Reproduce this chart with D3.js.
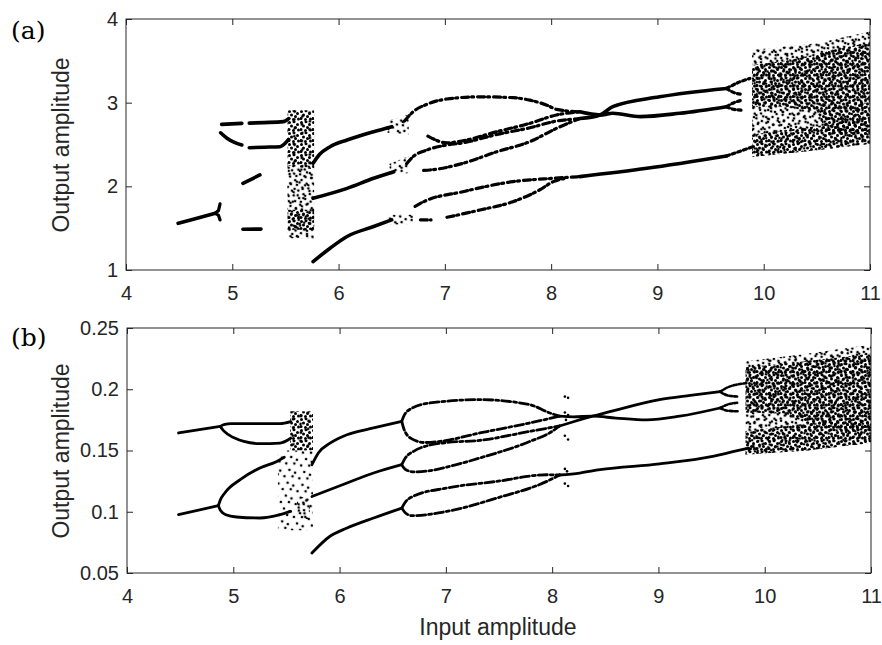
<!DOCTYPE html>
<html>
<head>
<meta charset="utf-8">
<script src="https://d3js.org/d3.v7.min.js"></script>
<style>
body { margin: 0; background: #fff; }
</style>
</head>
<body>
<script>

// ---- ticks ----
var xTicks = [4, 5, 6, 7, 8, 9, 10, 11];
var yTicksA = [1, 2, 3, 4];
var yTicksB = [0.05, 0.1, 0.15, 0.2, 0.25];
var yLabelsB = ["0.05", "0.1", "0.15", "0.2", "0.25"];

// ---- panel (a): branches, [input, output] ----
var aStem = [[4.49,1.558],[4.66,1.615],[4.84,1.678]];
var aForkUp = [[4.84,1.678],[4.87,1.71],[4.885,1.79]];
var aForkDn = [[4.84,1.678],[4.87,1.655],[4.885,1.598]];
var aSegMid = [[5.10,2.036],[5.26,2.136]];
var aSegLow = [[5.10,1.487],[5.27,1.489]];
var aUpperL = [[4.90,2.741],[5.09,2.753]];
var aUpperR = [[5.16,2.756],[5.30,2.762],[5.48,2.773],[5.53,2.81]];
var aLowerL = [[4.89,2.64],[4.95,2.575],[5.02,2.525],[5.09,2.494]];
var aLowerR = [[5.16,2.462],[5.30,2.468],[5.45,2.474],[5.53,2.56]];
var aTop0 = [[5.76,2.275],[5.82,2.38],[5.92,2.474],[6.08,2.554],[6.33,2.653],[6.50,2.713]];
var aMid0 = [[5.76,1.857],[6.08,1.976],[6.33,2.096],[6.52,2.175]];
var aLow0 = [[5.76,1.10],[5.92,1.26],[6.08,1.40],[6.33,1.52],[6.50,1.60]];
var aA1 = [[6.62,2.78],[6.70,2.89],[6.83,2.98],[7.02,3.044],[7.33,3.07],[7.64,3.06],[7.80,3.03],[7.96,2.97],[8.05,2.92],[8.27,2.89]];
var aA2 = [[6.84,2.60],[7.02,2.52],[7.17,2.545],[7.49,2.653],[7.80,2.753],[8.05,2.853],[8.27,2.89]];
var aB1 = [[6.64,2.27],[6.70,2.354],[6.83,2.434],[7.00,2.49],[7.17,2.52],[7.49,2.62],[7.80,2.70],[8.05,2.78],[8.27,2.81]];
var aB2 = [[6.80,2.19],[6.86,2.195],[7.17,2.275],[7.49,2.414],[7.80,2.534],[8.05,2.693],[8.27,2.81]];
var aC1 = [[6.72,1.76],[6.80,1.816],[7.17,1.936],[7.64,2.056],[8.02,2.096],[8.27,2.116]];
var aC2a = [[6.77,1.60],[6.87,1.598]];
var aC2 = [[7.02,1.63],[7.33,1.717],[7.64,1.816],[7.89,1.956],[8.02,2.056],[8.15,2.10]];
var aCrossLo = [[8.27,2.89],[8.46,2.853],[8.58,2.873],[8.84,2.833],[9.21,2.873],[9.65,2.952]];
var aCrossHi = [[8.27,2.81],[8.46,2.853],[8.58,2.952],[9.02,3.07],[9.65,3.17]];
var aLate = [[8.27,2.116],[8.90,2.216],[9.65,2.363]];
var aLateTail = [[9.65,2.363],[9.78,2.42],[9.90,2.474]];
var aForkHiUp = [[9.65,3.17],[9.76,3.24],[9.87,3.29]];
var aForkHiDn = [[9.65,3.17],[9.72,3.12],[9.80,3.10]];
var aForkLoUp = [[9.65,2.952],[9.72,3.00],[9.80,3.03]];
var aForkLoDn = [[9.65,2.952],[9.72,2.92],[9.80,2.91]];

// chaotic bands, [input, low, high]
var aCloudLeftDense = [[5.52,2.25,2.91],[5.77,2.20,2.91]];
var aCloudLeftLow = [[5.52,1.48,1.72],[5.77,1.48,1.72]];
var aCloudLeftSparse = [[5.52,1.38,2.25],[5.77,1.38,2.25]];
var aBlobTop = [[6.46,2.64,2.78],[6.66,2.62,2.86]];
var aBlobMid = [[6.48,2.13,2.27],[6.66,2.16,2.36]];
var aBlobLow = [[6.46,1.54,1.66],[6.70,1.55,1.66]];
var aCloudRightHi = [[9.89,2.95,3.45],[10.2,2.95,3.5],[10.5,2.9,3.58],[10.6,2.62,3.62],[11,2.62,3.72]];
var aCloudRightLo = [[9.89,2.35,2.62],[10.5,2.43,2.72],[11,2.51,2.8]];
var aCloudRightSparse = [[9.89,2.35,3.63],[10.5,2.43,3.71],[11,2.51,3.85]];

// ---- panel (b) ----
var bStemHi = [[4.485,0.1643],[4.877,0.1697]];
var bForkHiUp = [[4.877,0.1697],[4.92,0.1713],[4.98,0.1719],[5.2,0.172],[5.44,0.1719],[5.54,0.1735]];
var bForkHiDn = [[4.877,0.1697],[4.91,0.166],[4.955,0.1629],[5.10,0.1574],[5.25,0.1556],[5.44,0.1561],[5.54,0.160]];
var bStemLo = [[4.485,0.0976],[4.86,0.105]];
var bForkLoUp = [[4.86,0.105],[4.875,0.109],[4.92,0.1153],[5.065,0.1262],[5.25,0.1357],[5.41,0.1411],[5.48,0.1445]];
var bForkLoDn = [[4.86,0.105],[4.88,0.101],[4.93,0.0975],[5.03,0.0957],[5.25,0.0949],[5.44,0.0976],[5.54,0.1003]];
var bA0 = [[5.74,0.1384],[5.80,0.148],[5.91,0.156],[6.07,0.1629],[6.32,0.1684],[6.585,0.1738]];
var bB0 = [[5.74,0.1125],[6.07,0.1235],[6.32,0.1316],[6.585,0.1384]];
var bC0 = [[5.74,0.0663],[5.91,0.080],[6.07,0.0867],[6.32,0.0949],[6.585,0.103]];
var bA1 = [[6.585,0.1738],[6.61,0.179],[6.66,0.1835],[6.85,0.1888],[7.32,0.1915],[7.79,0.1874],[7.98,0.1806],[8.07,0.178]];
var bA2 = [[6.585,0.1738],[6.61,0.1665],[6.68,0.1595],[6.80,0.1565],[6.95,0.1575],[7.32,0.1643],[7.79,0.1725],[8.07,0.178]];
var bB1 = [[6.585,0.1384],[6.62,0.1440],[6.70,0.1495],[6.85,0.1545],[7.01,0.1565],[7.32,0.1583],[7.79,0.1656],[8.07,0.170]];
var bB2 = [[6.585,0.1384],[6.62,0.1345],[6.70,0.1325],[6.85,0.1335],[7.01,0.1365],[7.32,0.1439],[7.79,0.1574],[8.0,0.1656],[8.07,0.170]];
var bC1 = [[6.585,0.103],[6.62,0.108],[6.69,0.1125],[7.01,0.1194],[7.48,0.1248],[7.95,0.1302],[8.07,0.130]];
var bC2 = [[6.585,0.103],[6.62,0.099],[6.68,0.0968],[7.01,0.1003],[7.48,0.1112],[7.95,0.1248],[8.07,0.130]];
var bCrossLo = [[8.07,0.178],[8.2,0.1775],[8.38,0.178],[8.6,0.1765],[8.89,0.175],[9.2,0.178],[9.58,0.1847]];
var bCrossHi = [[8.07,0.170],[8.2,0.1735],[8.38,0.178],[8.6,0.183],[9.01,0.1915],[9.3,0.195],[9.58,0.198]];
var bLate = [[8.07,0.130],[8.26,0.1316],[8.45,0.1343],[9.01,0.139],[9.51,0.1452],[9.70,0.149],[9.85,0.152]];
var bForkHiUp2 = [[9.58,0.198],[9.65,0.2015],[9.75,0.204],[9.83,0.205]];
var bForkHiDn2 = [[9.58,0.198],[9.65,0.195],[9.75,0.194]];
var bForkLoUp2 = [[9.58,0.1847],[9.65,0.1875],[9.75,0.189]];
var bForkLoDn2 = [[9.58,0.1847],[9.65,0.1825],[9.75,0.182]];
var bScatter = [[8.12,0.194],[8.15,0.193],[8.12,0.181],[8.15,0.179],[8.13,0.175],[8.12,0.162],[8.15,0.159],[8.12,0.135],[8.14,0.133],[8.12,0.123],[8.15,0.121]];

var bCloudLeftDense = [[5.535,0.150,0.182],[5.75,0.150,0.182]];
var bCloudLeftMid = [[5.60,0.094,0.112],[5.72,0.094,0.112]];
var bCloudLeftSparse = [[5.42,0.085,0.150],[5.75,0.085,0.150]];
var bCloudRightHi = [[9.82,0.181,0.218],[10.2,0.18,0.221],[10.4,0.172,0.223],[11,0.165,0.229]];
var bCloudRightLo = [[9.82,0.1466,0.166],[10.4,0.150,0.172],[11,0.1561,0.175]];
var bCloudRightSparse = [[9.82,0.1466,0.2228],[10.4,0.150,0.229],[11,0.1561,0.2364]];

var ink = "#262626";
var sans = "'Liberation Sans', Arial, Helvetica, sans-serif";

var svg = d3.select("body").append("svg")
            .attr("width", 882)
            .attr("height", 645);

// dot textures for the chaotic bands
var defs = svg.append("defs");
function dotPattern(id, w, h, dots, r, rot) {
  var p = defs.append("pattern")
              .attr("id", id)
              .attr("patternUnits", "userSpaceOnUse")
              .attr("width", w).attr("height", h);
  if (rot) p.attr("patternTransform", "rotate(" + rot + ")");
  p.selectAll("circle").data(dots).enter().append("circle")
   .attr("cx", function(d){return d[0]})
   .attr("cy", function(d){return d[1]})
   .attr("r", r).attr("fill", "#000");
}
dotPattern("dense", 12, 11, [[1.5,1.5],[6,0.8],[9.5,3.5],[3.5,5],[7.5,6.5],[1,8.5],[5.5,9.5],[10.5,9]], 1.5, 0);
dotPattern("dense2", 9, 14, [[2,3],[6,10]], 1.4, 33);
dotPattern("medium", 12, 11, [[2,2],[8,3],[5,7],[11,9],[1,10]], 1.35, 17);
dotPattern("sparse", 15, 13, [[3,3],[11,2],[7,9],[13,11]], 1.3, 8);

function panel(xS, yS, yT, yL, clipId) {
  var x0 = xS.range()[0], x1 = xS.range()[1],
      y0 = yS.range()[0], y1 = yS.range()[1];

  defs.append("clipPath").attr("id", clipId)
      .append("rect").attr("x", x0).attr("y", y1)
      .attr("width", x1 - x0).attr("height", y0 - y1);

  var plot = svg.append("g").attr("clip-path", "url(#" + clipId + ")");

  var g = svg.append("g");
  g.append("g").attr("transform", "translate(0," + y0 + ")")
   .call(d3.axisBottom(xS).tickValues(xTicks).tickSize(-6).tickPadding(16).tickFormat(d3.format("d")));
  g.append("g").attr("transform", "translate(0," + y1 + ")")
   .call(d3.axisTop(xS).tickValues(xTicks).tickSize(-6).tickFormat(""));
  g.append("g").attr("transform", "translate(" + x0 + ",0)")
   .call(d3.axisLeft(yS).tickValues(yT).tickSize(-6).tickPadding(8)
           .tickFormat(function(d, i){return yL[i]}));
  g.append("g").attr("transform", "translate(" + x1 + ",0)")
   .call(d3.axisRight(yS).tickValues(yT).tickSize(-6).tickFormat(""));
  g.selectAll(".domain").remove();
  g.selectAll(".tick line").attr("stroke", ink);
  g.selectAll(".tick text")
   .attr("fill", ink)
   .style("font-family", sans)
   .style("font-size", "20px");
  g.append("rect")
   .attr("x", x0).attr("y", y1)
   .attr("width", x1 - x0).attr("height", y0 - y1)
   .attr("fill", "none").attr("stroke", ink).attr("stroke-width", 1);

  return plot;
}

function curve(plot, xS, yS, data, width, dash, straight) {
  var line = d3.line()
               .x(function(d){return xS(d[0])})
               .y(function(d){return yS(d[1])})
               .curve(straight ? d3.curveLinear : d3.curveMonotoneX);
  plot.append("path")
      .datum(data)
      .attr("d", line)
      .attr("fill", "none")
      .attr("stroke", "#000")
      .attr("stroke-width", width)
      .attr("stroke-linecap", "round")
      .attr("stroke-dasharray", dash || null);
}

function cloud(plot, xS, yS, data, pat) {
  var area = d3.area()
               .x(function(d){return xS(d[0])})
               .y0(function(d){return yS(d[1])})
               .y1(function(d){return yS(d[2])});
  plot.append("path")
      .datum(data)
      .attr("d", area)
      .attr("fill", "url(#" + pat + ")");
}

// ---------- (a) ----------
var xA = d3.scaleLinear().domain([4, 11]).range([126, 870]);
var yA = d3.scaleLinear().domain([1, 4]).range([270, 19]);
var pa = panel(xA, yA, yTicksA, yTicksA.map(String), "clipA");

cloud(pa, xA, yA, aCloudLeftSparse, "sparse");
cloud(pa, xA, yA, aCloudLeftSparse, "medium");
cloud(pa, xA, yA, aCloudLeftDense, "dense");
cloud(pa, xA, yA, aCloudLeftDense, "dense2");
cloud(pa, xA, yA, aCloudLeftLow, "dense");
[aBlobTop, aBlobMid, aBlobLow].forEach(function(b){ cloud(pa, xA, yA, b, "medium"); });
cloud(pa, xA, yA, aCloudRightSparse, "sparse");
cloud(pa, xA, yA, aCloudRightSparse, "medium");
cloud(pa, xA, yA, aCloudRightHi, "dense");
cloud(pa, xA, yA, aCloudRightHi, "dense2");
cloud(pa, xA, yA, aCloudRightLo, "dense");

[aStem, aSegMid, aSegLow, aUpperL, aUpperR, aLowerL, aLowerR,
 aTop0, aMid0, aLow0, aCrossLo, aCrossHi, aLate].forEach(function(d){
  curve(pa, xA, yA, d, 3.6);
});
curve(pa, xA, yA, aForkUp, 3.2, null, true);
curve(pa, xA, yA, aForkDn, 3.2, null, true);
[aA1, aA2, aB1, aB2, aC1, aC2, aC2a].forEach(function(d){
  curve(pa, xA, yA, d, 3.2, "7,3,2,4");
});
[aLateTail, aForkHiUp, aForkHiDn, aForkLoUp, aForkLoDn].forEach(function(d){
  curve(pa, xA, yA, d, 3.2, "3,3");
});

// ---------- (b) ----------
var xB = d3.scaleLinear().domain([4, 11]).range([127, 871]);
var yB = d3.scaleLinear().domain([0.05, 0.25]).range([573, 328]);
var pb = panel(xB, yB, yTicksB, yLabelsB, "clipB");

cloud(pb, xB, yB, bCloudLeftSparse, "sparse");
cloud(pb, xB, yB, bCloudLeftMid, "medium");
cloud(pb, xB, yB, bCloudLeftDense, "dense");
cloud(pb, xB, yB, bCloudLeftDense, "dense2");
cloud(pb, xB, yB, bCloudRightSparse, "sparse");
cloud(pb, xB, yB, bCloudRightSparse, "medium");
cloud(pb, xB, yB, bCloudRightHi, "dense");
cloud(pb, xB, yB, bCloudRightHi, "dense2");
cloud(pb, xB, yB, bCloudRightLo, "dense");

[bStemHi, bForkHiUp, bForkHiDn, bStemLo, bForkLoUp, bForkLoDn,
 bA0, bB0, bC0, bCrossLo, bCrossHi, bLate].forEach(function(d){
  curve(pb, xB, yB, d, 2.8);
});
[bA1, bA2, bB1, bB2, bC1, bC2].forEach(function(d){
  curve(pb, xB, yB, d, 2.8, "9,3,3,3");
});
[bForkHiUp2, bForkHiDn2, bForkLoUp2, bForkLoDn2].forEach(function(d){
  curve(pb, xB, yB, d, 2.6, "3,2");
});
pb.selectAll(".scatter")
  .data(bScatter).enter()
  .append("circle")
  .attr("class", "scatter")
  .attr("cx", function(d){return xB(d[0])})
  .attr("cy", function(d){return yB(d[1])})
  .attr("r", 1.3);

// ---------- labels ----------
svg.append("text")
   .attr("transform", "translate(69,145) rotate(-90)")
   .attr("text-anchor", "middle")
   .style("font-family", sans).style("font-size", "23px")
   .attr("fill", ink)
   .text("Output amplitude");
svg.append("text")
   .attr("transform", "translate(69,451) rotate(-90)")
   .attr("text-anchor", "middle")
   .style("font-family", sans).style("font-size", "23px")
   .attr("fill", ink)
   .text("Output amplitude");
svg.append("text")
   .attr("x", 498).attr("y", 635)
   .attr("text-anchor", "middle")
   .style("font-family", sans).style("font-size", "23px")
   .attr("fill", ink)
   .text("Input amplitude");
svg.append("text")
   .attr("x", 11).attr("y", 39)
   .style("font-family", "'DejaVu Serif', 'Liberation Serif', serif").style("font-size", "25px")
   .text("(a)");
svg.append("text")
   .attr("x", 11).attr("y", 346)
   .style("font-family", "'DejaVu Serif', 'Liberation Serif', serif").style("font-size", "25px")
   .text("(b)");

</script>
</body>
</html>
